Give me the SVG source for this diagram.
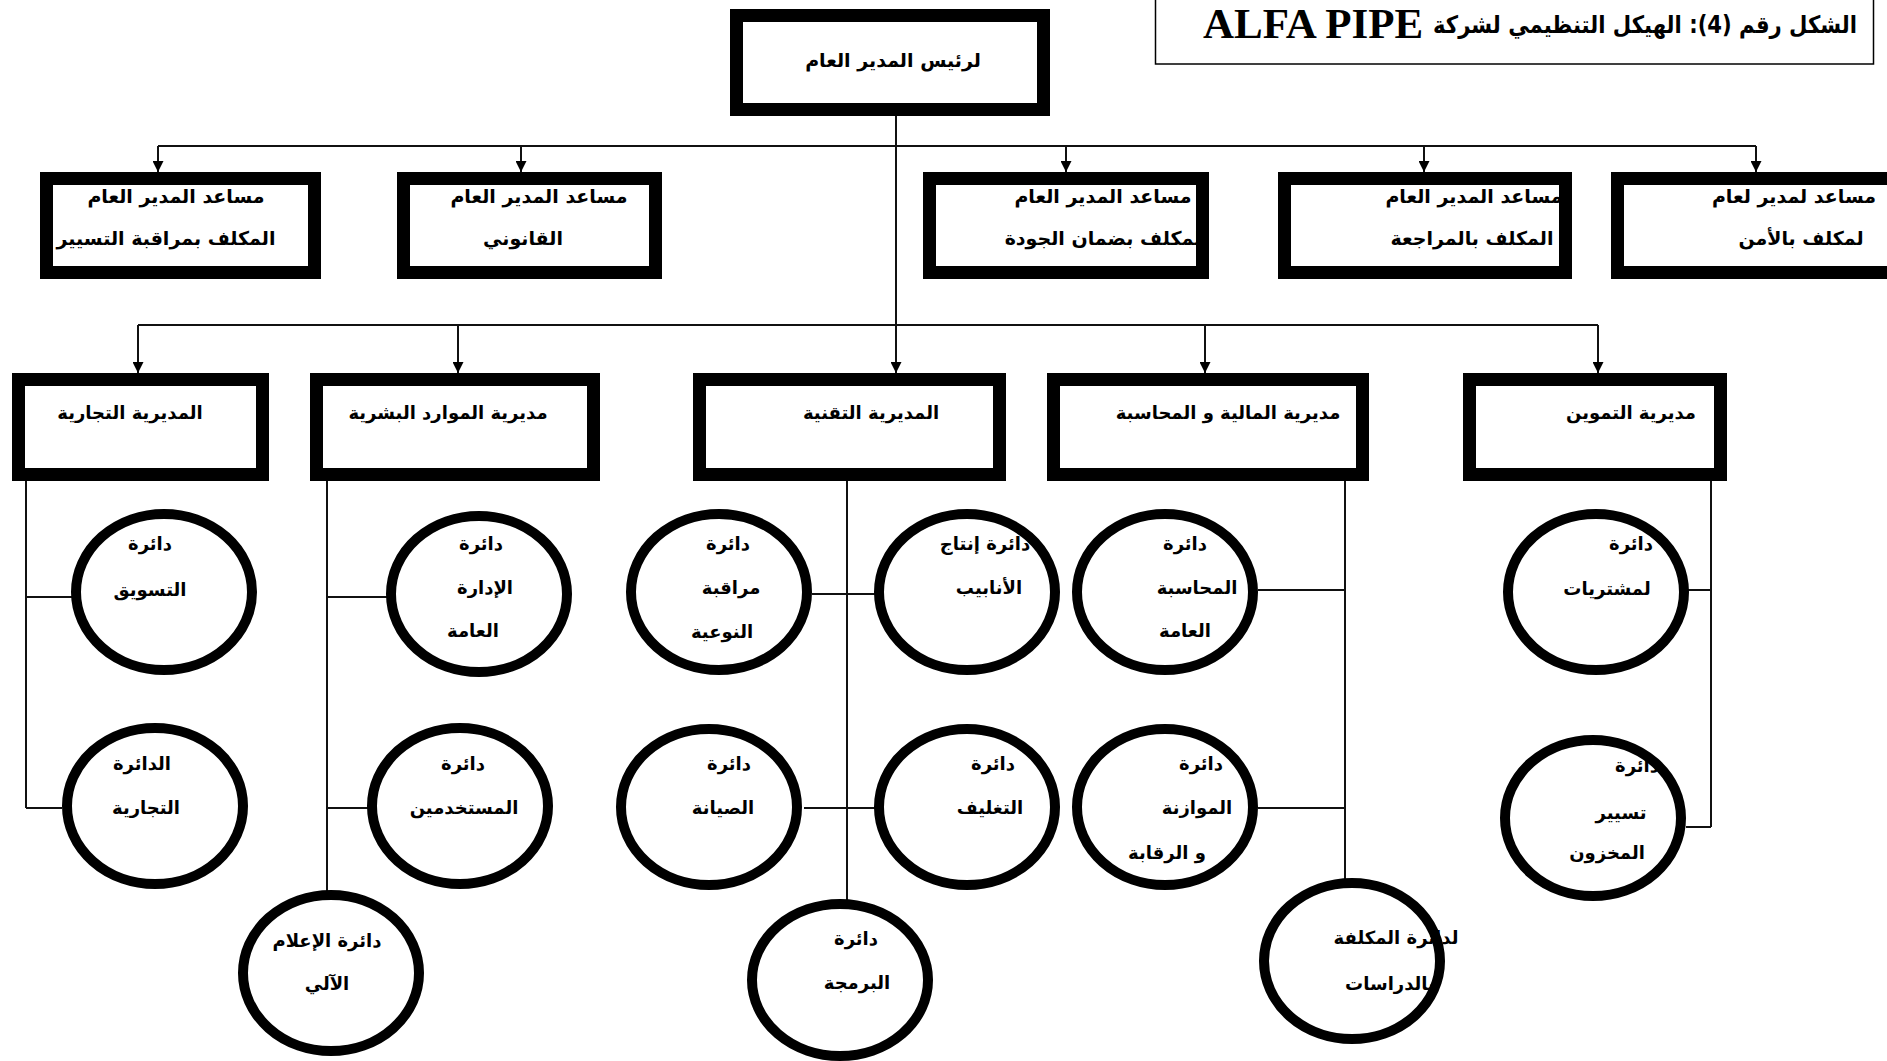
<svg xmlns="http://www.w3.org/2000/svg" width="1887" height="1061" viewBox="0 0 1887 1061">
<defs>
<style>
.box{fill:#fff;stroke:#000;stroke-width:13}
.ring{fill:#fff;stroke:#000;stroke-width:10}
.ln{fill:none;stroke:#111;stroke-width:2}
.t{font-family:"DejaVu Sans",sans-serif;font-weight:bold;font-size:18px;text-anchor:middle;direction:rtl;dominant-baseline:central;fill:#000}
.tb{font-size:19px}
</style>
<marker id="ah" markerUnits="userSpaceOnUse" viewBox="0 0 10 10" refX="10" refY="5" markerWidth="11" markerHeight="11" orient="auto">
<path d="M0,0 L10,5 L0,10 z" fill="#000"/>
</marker>
</defs>
<rect width="1887" height="1061" fill="#fff"/>

<g id="title">
<rect x="1155.5" y="-5" width="718" height="69" fill="#fff" stroke="#000" stroke-width="1.5"/>
<text x="1645" y="25" font-family="DejaVu Sans,sans-serif" font-weight="bold" font-size="24" text-anchor="middle" direction="rtl" dominant-baseline="central" textLength="424" lengthAdjust="spacingAndGlyphs">الشكل رقم (4): الهيكل التنظيمي لشركة</text>
<text x="1203" y="38" font-family="Liberation Serif,serif" font-weight="bold" font-size="43">ALFA PIPE</text>
</g>

<g id="connectors">
<path class="ln" d="M896,116 V373" marker-end="url(#ah)"/>
<path class="ln" d="M158,146 H1756"/>
<path class="ln" d="M158,146 V172" marker-end="url(#ah)"/>
<path class="ln" d="M521,146 V172" marker-end="url(#ah)"/>
<path class="ln" d="M1066,146 V172" marker-end="url(#ah)"/>
<path class="ln" d="M1424,146 V172" marker-end="url(#ah)"/>
<path class="ln" d="M1756,146 V172" marker-end="url(#ah)"/>
<path class="ln" d="M138,325 H1598"/>
<path class="ln" d="M138,325 V373" marker-end="url(#ah)"/>
<path class="ln" d="M458,325 V373" marker-end="url(#ah)"/>
<path class="ln" d="M1205,325 V373" marker-end="url(#ah)"/>
<path class="ln" d="M1598,325 V373" marker-end="url(#ah)"/>
<path class="ln" d="M26,481 V808 M26,597 H72 M26,808 H62"/>
<path class="ln" d="M327,481 V893 M327,597 H387 M327,808 H368"/>
<path class="ln" d="M847,481 V900 M812,594 H876 M804,808 H876"/>
<path class="ln" d="M1345,481 V880 M1258,590 H1345 M1258,808 H1345"/>
<path class="ln" d="M1711,481 V827 M1688,590 H1711 M1686,827 H1711"/>
</g>

<g id="n-ceo">
<rect class="box" x="736.5" y="15.5" width="307" height="94"/>
<text class="t tb" x="893" y="60">لرئيس المدير العام</text>
</g>

<g id="n-asst-control">
<rect class="box" x="46.5" y="178.5" width="268" height="94"/>
<text class="t tb" x="176" y="196">مساعد المدير العام</text>
<text class="t tb" x="166" y="238">المكلف بمراقبة التسيير</text>
</g>
<g id="n-asst-legal">
<rect class="box" x="403.5" y="178.5" width="252" height="94"/>
<text class="t tb" x="539" y="196">مساعد المدير العام</text>
<text class="t tb" x="523" y="238">القانوني</text>
</g>
<g id="n-asst-quality">
<rect class="box" x="929.5" y="178.5" width="273" height="94"/>
<text class="t tb" x="1103" y="196">مساعد المدير العام</text>
<text class="t tb" x="1103" y="238">لمكلف بضمان الجودة</text>
</g>
<g id="n-asst-audit">
<rect class="box" x="1284.5" y="178.5" width="281" height="94"/>
<text class="t tb" x="1474" y="196">مساعد المدير العام</text>
<text class="t tb" x="1472" y="238">المكلف بالمراجعة</text>
</g>
<g id="n-asst-security">
<rect class="box" x="1617.5" y="178.5" width="280" height="94"/>
<text class="t tb" x="1794" y="196">مساعد لمدير لعام</text>
<text class="t tb" x="1801" y="238">لمكلف بالأمن</text>
</g>

<g id="n-dir-commercial">
<rect class="box" x="18.5" y="379.5" width="244" height="95"/>
<text class="t" x="130" y="412">المديرية التجارية</text>
</g>
<g id="n-dir-hr">
<rect class="box" x="316.5" y="379.5" width="277" height="95"/>
<text class="t" x="448" y="412">مديرية الموارد البشرية</text>
</g>
<g id="n-dir-tech">
<rect class="box" x="699.5" y="379.5" width="300" height="95"/>
<text class="t" x="871" y="412">المديرية التقنية</text>
</g>
<g id="n-dir-finance">
<rect class="box" x="1053.5" y="379.5" width="309" height="95"/>
<text class="t" x="1228" y="412">مديرية المالية و المحاسبة</text>
</g>
<g id="n-dir-supply">
<rect class="box" x="1469.5" y="379.5" width="251" height="95"/>
<text class="t" x="1631" y="412">مديرية التموين</text>
</g>

<g id="n-marketing">
<ellipse class="ring" cx="164" cy="592" rx="88" ry="78"/>
<text class="t" x="150" y="543">دائرة</text>
<text class="t" x="150" y="589">التسويق</text>
</g>
<g id="n-commercial">
<ellipse class="ring" cx="155" cy="806" rx="88" ry="78"/>
<text class="t" x="142" y="763">الدائرة</text>
<text class="t" x="146" y="807">التجارية</text>
</g>
<g id="n-admin">
<ellipse class="ring" cx="479" cy="594" rx="88" ry="78"/>
<text class="t" x="481" y="543">دائرة</text>
<text class="t" x="485" y="587">الإدارة</text>
<text class="t" x="473" y="630">العامة</text>
</g>
<g id="n-staff">
<ellipse class="ring" cx="460" cy="806" rx="88" ry="78"/>
<text class="t" x="463" y="763">دائرة</text>
<text class="t" x="464" y="807">المستخدمين</text>
</g>
<g id="n-it">
<ellipse class="ring" cx="331" cy="973" rx="88" ry="78"/>
<text class="t" x="327" y="940">دائرة الإعلام</text>
<text class="t" x="327" y="983">الآلي</text>
</g>
<g id="n-quality">
<ellipse class="ring" cx="719" cy="592" rx="88" ry="78"/>
<text class="t" x="728" y="543">دائرة</text>
<text class="t" x="731" y="587">مراقبة</text>
<text class="t" x="722" y="631">النوعية</text>
</g>
<g id="n-production">
<ellipse class="ring" cx="967" cy="592" rx="88" ry="78"/>
<text class="t" x="985" y="543">دائرة إنتاج</text>
<text class="t" x="989" y="587">الأنابيب</text>
</g>
<g id="n-maintenance">
<ellipse class="ring" cx="709" cy="807" rx="88" ry="78"/>
<text class="t" x="729" y="763">دائرة</text>
<text class="t" x="723" y="807">الصيانة</text>
</g>
<g id="n-packaging">
<ellipse class="ring" cx="967" cy="807" rx="88" ry="78"/>
<text class="t" x="993" y="763">دائرة</text>
<text class="t" x="990" y="807">التغليف</text>
</g>
<g id="n-programming">
<ellipse class="ring" cx="840" cy="980" rx="88" ry="76"/>
<text class="t" x="856" y="938">دائرة</text>
<text class="t" x="857" y="982">البرمجة</text>
</g>
<g id="n-accounting">
<ellipse class="ring" cx="1165" cy="592" rx="88" ry="78"/>
<text class="t" x="1185" y="543">دائرة</text>
<text class="t" x="1197" y="587">المحاسبة</text>
<text class="t" x="1185" y="630">العامة</text>
</g>
<g id="n-budget">
<ellipse class="ring" cx="1165" cy="807" rx="88" ry="78"/>
<text class="t" x="1201" y="763">دائرة</text>
<text class="t" x="1197" y="807">الموازنة</text>
<text class="t" x="1167" y="852">و الرقابة</text>
</g>
<g id="n-studies">
<ellipse class="ring" cx="1352" cy="961" rx="88" ry="78"/>
<text class="t" x="1396" y="937">لدائرة المكلفة</text>
<text class="t" x="1390" y="983">بالدراسات</text>
</g>
<g id="n-purchasing">
<ellipse class="ring" cx="1596" cy="592" rx="88" ry="78"/>
<text class="t" x="1631" y="543">دائرة</text>
<text class="t" x="1607" y="588">لمشتريات</text>
</g>
<g id="n-inventory">
<ellipse class="ring" cx="1593" cy="818" rx="88" ry="78"/>
<text class="t" x="1637" y="765">دائرة</text>
<text class="t" x="1621" y="812">تسيير</text>
<text class="t" x="1607" y="852">المخزون</text>
</g>
</svg>
